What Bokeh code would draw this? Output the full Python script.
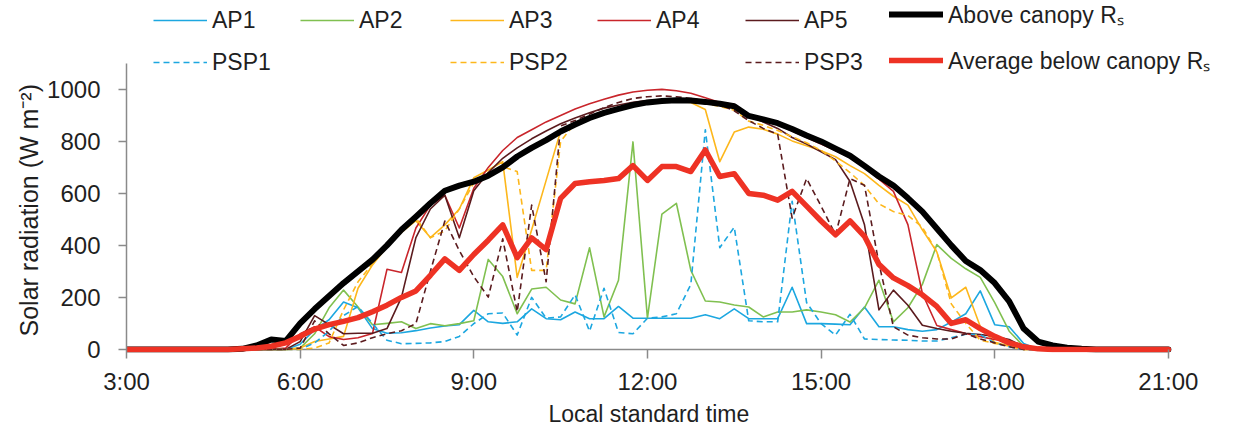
from bokeh.plotting import figure
from bokeh.models import Range1d, FixedTicker, Legend, LegendItem, ColumnDataSource, Title
from bokeh.core.properties import value
from bokeh.embed import file_html
from bokeh.resources import INLINE

# 15-minute records, 3:00 to 21:00 local standard time
times = [f"{h}:{m:02d}" for h in range(3, 22) for m in (0, 15, 30, 45)][:73]
hours = [int(t.split(":")[0]) + int(t.split(":")[1]) / 60 for t in times]

tick_hours = [3, 6, 9, 12, 15, 18, 21]
tick_labels = ["3:00", "6:00", "9:00", "12:00", "15:00", "18:00", "21:00"]
y_ticks = [0, 200, 400, 600, 800, 1000]

# Solar radiation, W m-2 (rows: 3:00, 6:00, 9:00, 12:00, 15:00, 18:00, then 21:00)
ap1 = [0, 0, 0, 0, 0, 0, 0, 0, 0, 0, 0, 0,
       20, 76, 114, 182, 160, 80, 62, 64, 72, 82, 90, 95,
       150, 106, 100, 106, 156, 118, 114, 144, 118, 118, 165, 120,
       120, 120, 120, 120, 133, 118, 156, 118, 118, 118, 239, 99,
       99, 97, 95, 163, 87, 87, 76, 70, 76, 105, 137, 225,
       95, 87, 23, 0, 0, 0, 0, 0, 0, 0, 0, 0,
       0]
ap2 = [0, 0, 0, 0, 0, 0, 0, 0, 0, 0, 0, 0,
       5, 60, 160, 228, 163, 95, 100, 106, 80, 99, 91, 99,
       110, 346, 280, 137, 232, 239, 190, 175, 391, 125, 266, 798,
       120, 520, 562, 304, 186, 182, 171, 163, 125, 144, 144, 152,
       144, 133, 105, 160, 266, 106, 160, 250, 403, 350, 310, 277,
       180, 70, 12, 0, 0, 0, 0, 0, 0, 0, 0, 0,
       0]
ap3 = [0, 0, 0, 0, 0, 0, 0, 0, 0, 0, 0, 0,
       5, 30, 40, 50, 235, 325, 395, 450, 495, 430, 479, 540,
       660, 690, 722, 277, 460, 650, 840, 868, 888, 907, 922, 936,
       946, 951, 954, 950, 923, 722, 836, 855, 847, 828, 802, 783,
       764, 741, 707, 676, 631, 589, 555, 460, 375, 198, 239, 88,
       27, 13, 0, 0, 0, 0, 0, 0, 0, 0, 0, 0,
       0]
ap4 = [0, 0, 0, 0, 0, 0, 0, 0, 0, 0, 0, 5,
       60, 87, 49, 38, 45, 61, 308, 296, 467, 555, 593, 467,
       620, 700, 765, 815, 845, 875, 900, 925, 945, 962, 978, 990,
       997, 1000, 995, 985, 968, 950, 942, 900, 885, 865, 840, 815,
       790, 765, 738, 700, 655, 608, 480, 215, 92, 76, 61, 49,
       38, 30, 10, 0, 0, 0, 0, 0, 0, 0, 0, 0,
       0]
ap5 = [0, 0, 0, 0, 0, 0, 0, 0, 0, 0, 0, 0,
       30, 130, 95, 60, 62, 62, 80, 200, 430, 540, 593, 429,
       610, 680, 735, 775, 810, 840, 868, 890, 910, 928, 940, 950,
       957, 960, 960, 958, 952, 945, 932, 900, 875, 850, 815, 790,
       760, 730, 646, 479, 152, 228, 170, 93, 80, 70, 62, 57,
       50, 38, 11, 0, 0, 0, 0, 0, 0, 0, 0, 0,
       0]
psp1 = [0, 0, 0, 0, 0, 0, 0, 0, 0, 0, 0, 0,
        0, 25, 70, 130, 165, 100, 35, 22, 23, 25, 30, 50,
        99, 137, 140, 55, 200, 120, 125, 210, 70, 235, 65, 60,
        120, 125, 137, 250, 845, 391, 470, 110, 106, 106, 570, 180,
        99, 55, 135, 40, 38, 36, 35, 32, 32, 45, 58, 57,
        25, 10, 0, 0, 0, 0, 0, 0, 0, 0, 0, 0,
        0]
psp2 = [0, 0, 0, 0, 0, 0, 0, 0, 0, 0, 0, 0,
        0, 5, 25, 152, 260, 330, 395, 455, 505, 429, 456, 540,
        640, 665, 703, 684, 304, 304, 800, 870, 888, 907, 922, 936,
        946, 951, 954, 952, 945, 935, 920, 878, 862, 842, 818, 795,
        765, 725, 680, 630, 560, 530, 515, 470, 375, 175, 100, 35,
        23, 13, 0, 0, 0, 0, 0, 0, 0, 0, 0, 0,
        0]
psp3 = [0, 0, 0, 0, 0, 0, 0, 0, 0, 0, 0, 0,
        5, 110, 60, 15, 25, 45, 60, 72, 99, 300, 494, 380,
        280, 201, 425, 145, 555, 260, 860, 880, 905, 930, 950, 965,
        972, 975, 972, 965, 955, 940, 918, 880, 850, 828, 505, 657,
        551, 441, 657, 631, 330, 87, 55, 45, 40, 40, 60, 40,
        25, 10, 0, 0, 0, 0, 0, 0, 0, 0, 0, 0,
        0]
above = [0, 0, 0, 0, 0, 0, 0, 0, 2, 15, 38, 32,
         100, 155, 205, 255, 300, 345, 400, 460, 510, 562, 610, 630,
         645, 668, 700, 742, 775, 805, 838, 865, 890, 910, 925, 940,
         950, 955, 958, 957, 952, 945, 935, 898, 885, 870, 848, 823,
         800, 772, 745, 706, 665, 630, 582, 530, 465, 400, 340, 305,
         255, 185, 80, 30, 15, 6, 2, 0, 0, 0, 0, 0,
         0]
average = [0, 0, 0, 0, 0, 0, 0, 0, 2, 5, 12, 25,
           50, 78, 95, 108, 122, 145, 170, 200, 225, 285, 348, 304,
           365, 420, 479, 353, 429, 384, 581, 638, 645, 650, 657, 707,
           650, 703, 703, 684, 767, 665, 676, 600, 593, 574, 608, 551,
           494, 441, 494, 435, 327, 275, 245, 210, 165, 100, 114, 80,
           50, 25, 10, 2, 0, 0, 0, 0, 0, 0, 0, 0,
           0]

FONT = "Liberation Sans"
TEXT = "#1f1f1f"
AXIS = "#8a8a8a"
BLUE = "#1CA7E0"
GREEN = "#80C050"
GOLD = "#FDB71C"
RED = "#C9252B"
BROWN = "#5B1B1E"
BLACK = "#000000"
AVG_RED = "#EE3224"

src = ColumnDataSource(dict(hours=hours, ap1=ap1, ap2=ap2, ap3=ap3, ap4=ap4, ap5=ap5,
                            psp1=psp1, psp2=psp2, psp3=psp3, above=above, average=average))

# The frame runs to the top and right edges so the legend has room above the
# 1100 end of the y axis and past 21:00; both axes are bounded to the data span.
p = figure(width=1257, height=427, output_backend="svg", toolbar_location=None,
           x_range=Range1d(3, 22.54), y_range=Range1d(-12, 1342),
           min_border_left=126, min_border_right=0, min_border_top=0, min_border_bottom=71,
           background_fill_color="white", border_fill_color="white")
p.outline_line_color = None
p.xgrid.visible = False
p.ygrid.visible = False

# zero line acting as the horizontal axis line, 3:00 to 21:00
p.line(x=[tick_hours[0], tick_hours[-1]], y=[0, 0], line_color=AXIS, line_width=1.5, level="underlay")

def series(col, color, width, dash="solid", cap="butt"):
    return p.line("hours", col, source=src, line_color=color, line_width=width,
                  line_dash=dash, line_join="round", line_cap=cap)

DASH = "6 4"
r_ap1 = series("ap1", BLUE, 1.6)
r_ap2 = series("ap2", GREEN, 1.6)
r_ap3 = series("ap3", GOLD, 1.6)
r_ap4 = series("ap4", RED, 1.6)
r_ap5 = series("ap5", BROWN, 1.6)
r_psp1 = series("psp1", BLUE, 1.6, DASH)
r_psp2 = series("psp2", GOLD, 1.6, DASH)
r_psp3 = series("psp3", BROWN, 1.6, DASH)
r_above = series("above", BLACK, 6, cap="round")
r_avg = series("average", AVG_RED, 5.5, cap="round")

xa = p.xaxis[0]
ya = p.yaxis[0]
xa.ticker = FixedTicker(ticks=tick_hours)
xa.major_label_overrides = dict(zip(tick_hours, tick_labels))
xa.bounds = (tick_hours[0], tick_hours[-1])
ya.ticker = FixedTicker(ticks=y_ticks)
ya.bounds = (0, 1100)
for ax in (xa, ya):
    ax.axis_line_color = AXIS
    ax.axis_line_width = 1.5
    ax.major_tick_line_color = AXIS
    ax.major_tick_line_width = 1.5
    ax.minor_tick_line_color = None
    ax.major_label_text_font = FONT
    ax.major_label_text_font_size = "24px"
    ax.major_label_text_color = TEXT
xa.axis_line_color = None
xa.major_tick_in = 3
xa.major_tick_out = 6
xa.major_label_standoff = 9
ya.major_tick_in = 0
ya.major_tick_out = 8
ya.major_label_standoff = 18

# Axis titles as side titles, placed along the axis spans rather than the whole frame
x_title = Title(text="Local standard time", align="left", offset=422, standoff=2,
                text_font=FONT, text_font_size="23px", text_font_style="normal", text_color=TEXT)
y_title = Title(text="Solar radiation (W m\u207b\u00b2)", align="left", offset=16, standoff=4,
                text_font=FONT, text_font_size="25px", text_font_style="normal", text_color=TEXT)
p.add_layout(x_title, "below")
p.add_layout(y_title, "left")

def add_legend(entries, vx, vy):
    leg = Legend(items=[LegendItem(label=value(lbl), renderers=[r]) for lbl, r in entries],
                 location=(vx, vy), orientation="vertical",
                 background_fill_alpha=0, border_line_alpha=0, padding=0, margin=0,
                 spacing=14, glyph_width=54, glyph_height=28, label_height=28,
                 label_standoff=5, label_text_font=FONT, label_text_font_size="23px",
                 label_text_color=TEXT)
    p.add_layout(leg)

add_legend([("AP1", r_ap1), ("PSP1", r_psp1)], 27, 276)
add_legend([("AP2", r_ap2)], 174, 318)
add_legend([("AP3", r_ap3), ("PSP2", r_psp2)], 324, 276)
add_legend([("AP4", r_ap4)], 471, 318)
add_legend([("AP5", r_ap5), ("PSP3", r_psp3)], 619, 276)
add_legend([("Above canopy R\u209b", r_above), ("Average below canopy R\u209b", r_avg)], 763, 276)

open("out.html", "w").write(file_html(p, INLINE))
